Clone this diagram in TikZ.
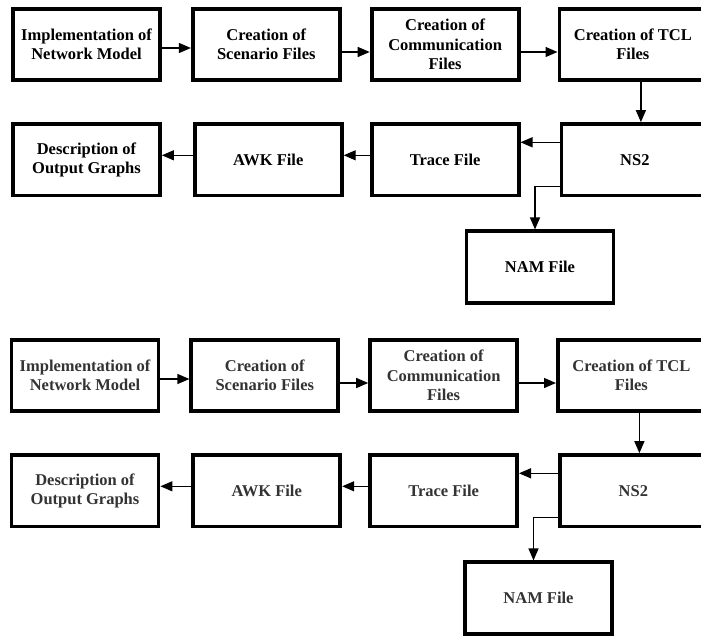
\documentclass[tikz,border=0pt]{standalone}
\usepackage{fontspec}
\setmainfont{Liberation Serif}
\usetikzlibrary{arrows.meta,positioning,calc}

\begin{document}
\begin{tikzpicture}[
    x=1pt, y=-1pt,
    box/.style={draw, line width=3.8pt, minimum width=147pt, minimum height=71.5pt,
      inner sep=2pt, align=center, font=\fontsize{16.5}{19.5}\selectfont\bfseries},
    post/.style={-{Triangle[length=12pt,width=10pt]}, line width=1.3pt}
    ]

\useasboundingbox (0,0) rectangle (701,639);
\clip (0,0) rectangle (701,639);

% the crisp copy on top, the blurred copy below
\foreach \dx/\dy/\tc in {0/0/black, -1.5/331/black!80}{
\begin{scope}[shift={(\dx,\dy)}, every node/.append style={text=\tc}]

\node[box] (impl) at (86.5,44.5) {Implementation of\\Network Model};
\node[box, right=29pt of impl] (scen) {Creation of\\Scenario Files};
\node[box, right=28pt of scen] (comm) {Creation of\\Communication\\Files};
\node[box, right=37pt of comm] (tcl) {Creation of TCL\\Files};

\node[box, below=40pt of impl] (desc) {Description of\\Output Graphs};
\node[box, right=31pt of desc] (awk) {AWK File};
\node[box, right=26pt of awk] (trace) {Trace File};
\node[box, right=39pt of trace] (ns2) {NS2};

\node[box, anchor=north] (nam) at ($(trace.south)!.5!(ns2.south)+(0,32)$) {NAM File};

 \draw[post] ([yshift=-3.5pt]impl.east) -- ([yshift=-3.5pt]scen.west);
 \draw[post] ([yshift=-7.5pt]scen.east) -- ([yshift=-7.5pt]comm.west);
 \draw[post] ([yshift=-7.5pt]comm.east) -- ([yshift=-7.5pt]tcl.west);
 \draw[post] ([xshift=8pt]tcl.south) -- ([xshift=8pt]tcl.south |- ns2.north);
 \draw[post] ([yshift=17.5pt]ns2.west) -- ([yshift=17.5pt]trace.east);
 \draw[post] ([yshift=4.5pt]trace.west) -- ([yshift=4.5pt]awk.east);
 \draw[post] ([yshift=4.5pt]awk.west) -- ([yshift=4.5pt]desc.east);
 \draw[post] ([yshift=-26.5pt]ns2.west) -| ([xshift=-5pt]nam.north);

\end{scope}
}

\end{tikzpicture}
\end{document}
